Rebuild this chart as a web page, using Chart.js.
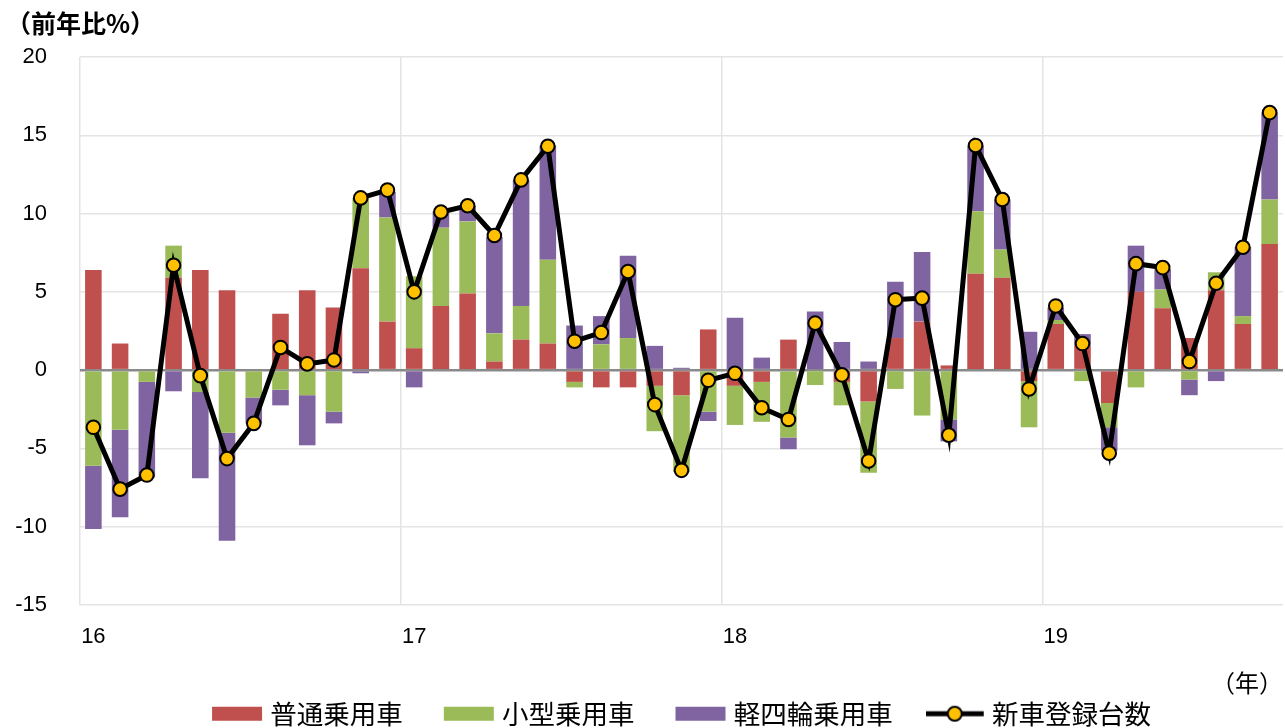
<!DOCTYPE html>
<html>
<head>
<meta charset="utf-8">
<script src="https://cdn.jsdelivr.net/npm/chart.js@4/dist/chart.umd.min.js"></script>
<style>
  html, body { margin: 0; padding: 0; background: #fff; }
  #wrap { width: 1285px; height: 728px; }
</style>
</head>
<body>
<div id="wrap"><canvas id="myChart"></canvas></div>
<script>
// 前年比(%) 2016/1 - 2019/9, monthly
const yearLabels = ['16', '17', '18', '19'];
const seriesNames = ['普通乗用車', '小型乗用車', '軽四輪乗用車', '新車登録台数'];

const futsu = [6.4, 1.7, 0, 5.9, 6.4, 5.1, 0, 3.6, 5.1, 4.0, 6.5, 3.1,
  1.4, 4.1, 4.9, 0.55, 1.95, 1.7, -0.75, -1.1, -1.1, -1.0, -1.6, 2.6,
  -1.0, -0.75, 1.95, 0, -0.75, -2.0, 2.05, 3.1, 0.3, 6.15, 5.9, -0.7,
  2.95, 1.55, -2.1, 5.0, 3.95, 2.05, 5.1, 2.95, 8.05];
const kogata = [-6.1, -3.8, -0.75, 2.05, -1.4, -4.0, -1.75, -1.25, -1.6, -2.65, 4.5, 6.65,
  4.6, 5.0, 4.6, 1.8, 2.15, 5.35, -0.35, 1.65, 2.05, -2.9, -4.9, -2.65,
  -2.5, -2.55, -4.3, -0.95, -1.5, -4.55, -1.2, -2.9, -3.15, 4.0, 1.8, -2.95,
  0.25, -0.7, -1.55, -1.1, 1.2, -0.6, 1.15, 0.5, 2.85];
const kei = [-4.05, -5.6, -6.1, -1.35, -5.5, -6.9, -1.65, -1.0, -3.2, -0.75, -0.2, 1.65,
  -1.1, 1.05, 1.0, 6.15, 8.05, 7.3, 2.85, 1.8, 5.25, 1.55, 0.15, -0.6,
  3.35, 0.8, -0.75, 3.75, 1.8, 0.55, 3.6, 4.45, -1.4, 4.2, 3.2, 2.45,
  0.8, 0.75, -1.5, 2.95, 1.3, -1.0, -0.7, 4.4, 5.55];
const total = [-3.65, -7.6, -6.7, 6.7, -0.35, -5.65, -3.4, 1.45, 0.4, 0.65, 11.0, 11.5,
  5.0, 10.1, 10.5, 8.6, 12.15, 14.3, 1.85, 2.4, 6.3, -2.2, -6.4, -0.65,
  -0.2, -2.4, -3.15, 3.0, -0.3, -5.8, 4.5, 4.6, -4.15, 14.35, 10.9, -1.2,
  4.1, 1.7, -5.3, 6.8, 6.55, 0.55, 5.55, 7.85, 16.45];

const months = total.map((v, i) => '20' + yearLabels[Math.floor(i / 12)] + '/' + (i % 12 + 1));

const RED = '#C0504D', GREEN = '#9BBB59', PURPLE = '#8064A2', YELLOW = '#FFC000';
const JP = '"Noto Sans CJK JP", "Noto Sans", sans-serif';
const LAT = '"Liberation Sans", Arial, sans-serif';

// legend icons (61px wide, centred on the 45px legend box)
function legendIcon(kind, color) {
  const c = document.createElement('canvas');
  c.width = 61; c.height = 18;
  const g = c.getContext('2d');
  if (kind === 'bar') {
    g.fillStyle = color;
    g.fillRect(8, 2, 50, 14);
  } else {
    g.strokeStyle = '#000';
    g.lineWidth = 5;
    g.beginPath(); g.moveTo(0, 9); g.lineTo(58, 9); g.stroke();
    g.beginPath(); g.arc(29, 9, 7, 0, Math.PI * 2);
    g.fillStyle = YELLOW; g.fill();
    g.lineWidth = 2; g.stroke();
  }
  return c;
}
const icons = [legendIcon('bar', RED), legendIcon('bar', GREEN), legendIcon('bar', PURPLE), legendIcon('line')];

const ctx = document.getElementById('myChart');

new Chart(ctx, {
  type: 'bar',
  data: {
    labels: months,
    datasets: [
      { label: seriesNames[0], data: futsu, backgroundColor: RED, order: 1 },
      { label: seriesNames[1], data: kogata, backgroundColor: GREEN, order: 1 },
      { label: seriesNames[2], data: kei, backgroundColor: PURPLE, order: 1 },
      {
        type: 'line', label: seriesNames[3], data: total, order: 0,
        borderColor: '#000', borderWidth: 5, tension: 0,
        pointRadius: 6.8, pointBackgroundColor: YELLOW,
        pointBorderColor: '#000', pointBorderWidth: 2
      }
    ]
  },
  options: {
    responsive: true,
    maintainAspectRatio: false,
    animation: false,
    categoryPercentage: 1,
    barPercentage: 0.62,
    layout: { autoPadding: false, padding: { left: 6, right: 2, top: 0, bottom: -9 } },
    scales: {
      x: {
        stacked: true,
        border: { display: false },
        afterFit: (scale) => { scale.paddingLeft = 0; scale.paddingRight = 0; },
        grid: {
          drawTicks: false,
          lineWidth: 1.5,
          color: (c) => (c.index % 12 === 0 ? '#e4e4e4' : 'rgba(0,0,0,0)')
        },
        ticks: {
          autoSkip: false,
          maxRotation: 0,
          padding: 19,
          color: '#000',
          font: { family: LAT, size: 22 },
          callback: (v, i) => (i % 12 === 0 ? yearLabels[i / 12] : '')
        },
        title: {
          display: true,
          text: '（年）',
          align: 'end',
          color: '#000',
          font: { family: JP, size: 24, lineHeight: 1 },
          padding: { top: 1.6, bottom: -35.5 }
        }
      },
      y: {
        stacked: true,
        min: -15,
        max: 20,
        border: { display: false },
        afterFit: (scale) => { scale.width = 74; },
        grid: {
          drawTicks: false,
          color: (c) => (c.tick.value === 0 ? '#8a8a8a' : '#e4e4e4'),
          lineWidth: (c) => (c.tick.value === 0 ? 2.5 : 1.5)
        },
        ticks: {
          stepSize: 5,
          padding: 33,
          color: '#000',
          font: { family: LAT, size: 22 }
        }
      }
    },
    plugins: {
      title: {
        display: true,
        text: '（前年比%）',
        align: 'start',
        color: '#000',
        font: { family: JP, size: 25, weight: 'bold' },
        padding: { top: 8, bottom: 19 }
      },
      legend: {
        position: 'bottom',
        fullSize: false,
        labels: {
          usePointStyle: true,
          pointStyleWidth: 45,
          padding: 41,
          color: '#000',
          font: { family: JP, size: 26.5 },
          sort: (a, b) => a.datasetIndex - b.datasetIndex,
          generateLabels: (chart) => {
            const items = Chart.defaults.plugins.legend.labels.generateLabels(chart);
            items.forEach((it) => { it.pointStyle = icons[it.datasetIndex]; });
            return items;
          }
        }
      },
      tooltip: { enabled: false }
    }
  }
});
</script>
</body>
</html>
